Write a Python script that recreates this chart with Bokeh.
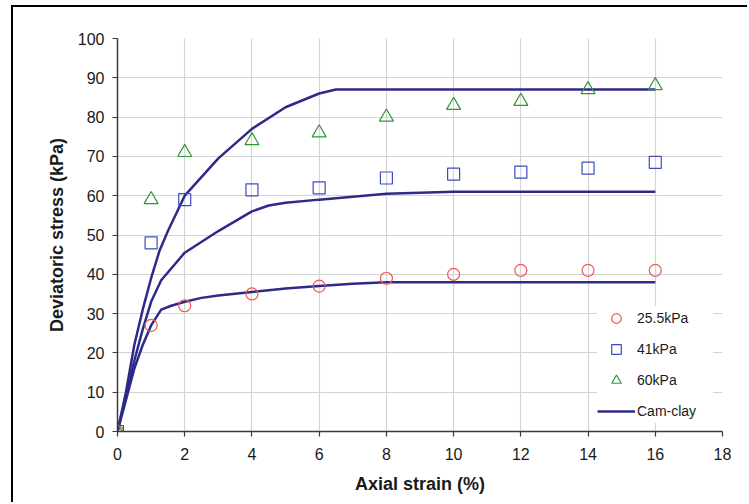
from bokeh.plotting import figure
from bokeh.models import Range1d, Legend, LegendItem, FixedTicker
from bokeh.embed import file_html
from bokeh.resources import INLINE

# Measured data
strain_pts = [0, 1, 2, 4, 6, 8, 10, 12, 14, 16]
stress_25 = [0, 27, 32, 35, 37, 39, 40, 41, 41, 41]
stress_41 = [0, 48, 59, 61.5, 62, 64.5, 65.5, 66, 67, 68.5]
stress_60 = [0, 59, 71, 74, 76, 80, 83, 84, 87, 88]

# Cam-clay predictions
cc_x_25 = [0, 0.25, 0.5, 0.75, 1, 1.3, 1.6, 2, 2.5, 3, 4, 5, 6, 7, 8, 10, 16]
cc_y_25 = [0, 8, 16, 22, 27, 31, 32, 33, 34, 34.6, 35.5, 36.4, 37, 37.6, 38, 38, 38]
cc_x_41 = [0, 0.25, 0.5, 0.75, 1, 1.3, 2, 3, 4, 4.5, 5, 6, 8, 10, 16]
cc_y_41 = [0, 9, 18, 26, 33, 38.5, 45.5, 51, 56, 57.5, 58.2, 59, 60.5, 61, 61]
cc_x_60 = [0, 0.25, 0.5, 0.75, 1, 1.25, 1.5, 2, 3, 4, 5, 6, 6.5, 16]
cc_y_60 = [0, 10, 22, 31, 39, 46, 51, 60, 69.5, 77, 82.5, 86, 87, 87]

x_ticks = [0, 2, 4, 6, 8, 10, 12, 14, 16, 18]
y_ticks = [0, 10, 20, 30, 40, 50, 60, 70, 80, 90, 100]

p = figure(width=736, height=497, x_range=Range1d(0, 18), y_range=Range1d(0, 100),
           output_backend="svg", toolbar_location=None,
           min_border_left=104, min_border_right=27, min_border_top=31, min_border_bottom=73)
p.margin = (5, 0, 0, 11)
p.styles = {"border-top": "2px solid black", "border-left": "2px solid black"}
p.outline_line_color = None
p.background_fill_color = "white"

for ax in (p.xaxis[0], p.yaxis[0]):
    ax.axis_line_color = "#3a3a3a"
    ax.axis_line_width = 1.5
    ax.major_tick_line_color = "#3a3a3a"
    ax.major_tick_line_width = 1.2
    ax.major_tick_out = 5
    ax.major_tick_in = 0
    ax.minor_tick_line_color = None
    ax.major_label_text_font = "Liberation Sans"
    ax.major_label_text_font_size = "16px"
    ax.major_label_text_color = "#1a1a1a"
    ax.axis_label_text_font = "Liberation Sans"
    ax.axis_label_text_font_size = "18px"
    ax.axis_label_text_font_style = "bold"
    ax.axis_label_text_color = "#1a1a1a"

p.xaxis.ticker = FixedTicker(ticks=x_ticks)
p.yaxis.ticker = FixedTicker(ticks=y_ticks)
p.xaxis.axis_label = "Axial strain (%)"
p.yaxis.axis_label = "Deviatoric stress (kPa)"
p.xaxis.major_label_standoff = 11
p.yaxis.major_label_standoff = 8
p.xaxis.axis_label_standoff = 11
p.yaxis.axis_label_standoff = 8

p.grid.grid_line_color = "#d4d4d4"
p.grid.grid_line_width = 1.2

line_color = "#2e2a8a"
l1 = p.line(cc_x_25, cc_y_25, line_color=line_color, line_width=2.5)
p.line(cc_x_41, cc_y_41, line_color=line_color, line_width=2.5)
p.line(cc_x_60, cc_y_60, line_color=line_color, line_width=2.5)

r1 = p.scatter(strain_pts, stress_25, marker="circle", size=12, fill_color=None,
               line_color="#ee5a55", line_width=1.2)
r2 = p.scatter(strain_pts, stress_41, marker="square", size=12, fill_color=None,
               line_color="#3a4cc0", line_width=1.2)
r3 = p.scatter(strain_pts, stress_60, marker="triangle", size=14, fill_color=None,
               line_color="#2e9632", line_width=1.2)

legend = Legend(items=[
    LegendItem(label="25.5kPa", renderers=[r1]),
    LegendItem(label="41kPa", renderers=[r2]),
    LegendItem(label="60kPa", renderers=[r3]),
    LegendItem(label="Cam-clay", renderers=[l1]),
], location=(480, 8))
legend.background_fill_color = "white"
legend.background_fill_alpha = 1.0
legend.border_line_color = None
legend.label_text_font = "Liberation Sans"
legend.label_text_font_size = "14px"
legend.label_text_color = "#1a1a1a"
legend.glyph_width = 38
legend.glyph_height = 24
legend.spacing = 7
legend.padding = 10
legend.margin = 0
legend.label_standoff = 2
legend.label_width = 76
p.add_layout(legend)

open("out.html", "w").write(file_html(p, INLINE))
